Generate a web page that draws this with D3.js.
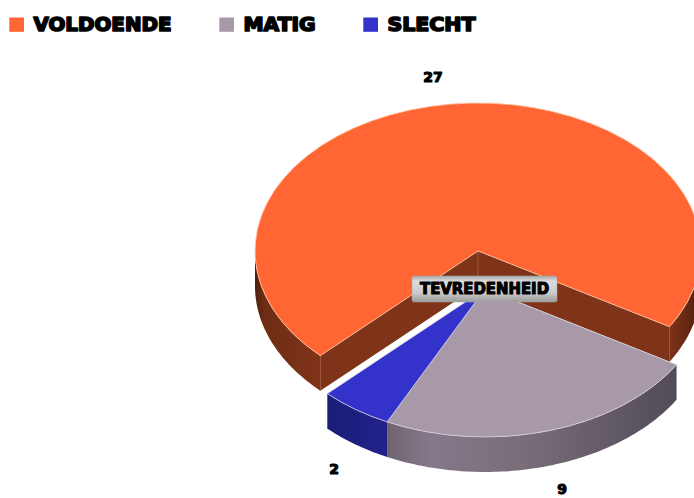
<!DOCTYPE html>
<html><head><meta charset="utf-8">
<script src="https://cdn.jsdelivr.net/npm/d3@7"></script>
<style>html,body{margin:0;background:#fff;overflow:hidden}svg{display:block}
text{font-family:"DejaVu Sans",sans-serif;font-weight:700;fill:#000;stroke:#000;paint-order:stroke;stroke-linejoin:round}</style>
</head><body><svg id="c" width="694" height="498"></svg>
<script>
const categories = ["VOLDOENDE","MATIG","SLECHT"];
const values = [27,9,2];
const topColors = ["#ff6633","#a899a8","#3333cc"];
const title = "TEVREDENHEID";
const startAngle = 225;           // degrees clockwise from north, where the first slice begins
const exploded = [false,true,true];
const centers = {normal:[478,251], exploded:[485,289]};
const rx = 223, ry = 148, depth = 35;
const labelPos = [[433,77],[562,489],[334,469]];
const legendX = [9,219,363];

const svg = d3.select("#c");
const defs = svg.append("defs");
function grad(id, stops){
  const g = defs.append("linearGradient").attr("id",id).attr("x1",0).attr("x2",1).attr("y1",0).attr("y2",0);
  stops.forEach(([o,c])=>g.append("stop").attr("offset",o).attr("stop-color",c));
}
grad("wall0",[[0,"#4e1f0e"],[.14,"#6f2d15"],[1,"#7f3318"]]);
grad("wall0r",[[0,"#7f3318"],[1,"#4e1f0e"]]);
grad("wall1",[[0,"#6f6470"],[.15,"#85788a"],[.45,"#7a6e7a"],[1,"#524c58"]]);
grad("wall2",[[0,"#1c1c78"],[1,"#22228a"]]);
const lg = defs.append("linearGradient").attr("id","box").attr("x1",0).attr("x2",0).attr("y1",0).attr("y2",1);
[[0,"#a8a8a8"],[.2,"#dcdcdc"],[.65,"#cbcbcb"],[1,"#9a9a9a"]].forEach(([o,c])=>lg.append("stop").attr("offset",o).attr("stop-color",c));

const pie = d3.pie().sort(null).value(d=>d).startAngle(startAngle*Math.PI/180).endAngle((startAngle+360)*Math.PI/180);
const arcs = pie(values);
const pt = (c,a,dz=0)=>[c[0]+rx*Math.sin(a), c[1]-ry*Math.cos(a)+dz];
const unitArc = d3.arc().innerRadius(0).outerRadius(1);
const line = d3.line();

function wallPath(c,a0,a1){
  const n = Math.max(2,Math.ceil((a1-a0)*60));
  const ang = d3.range(n+1).map(i=>a0+(a1-a0)*i/n);
  return line(ang.map(a=>pt(c,a)).concat(ang.slice().reverse().map(a=>pt(c,a,depth))))+"Z";
}
// the visible front part of the rim: angles that fall in the lower half of the ellipse
function frontRanges(a0,a1){
  const out=[];
  for(let k=0;k<3;k++){
    const lo=Math.PI/2+k*2*Math.PI, hi=3*Math.PI/2+k*2*Math.PI;
    const s=Math.max(a0,lo), e=Math.min(a1,hi);
    if(e>s) out.push([s,e]);
  }
  return out;
}
arcs.forEach((d,i)=>{
  const c = exploded[i]?centers.exploded:centers.normal;
  const g = svg.append("g");
  if(i===0){
    // cut faces of the large slice
    [d.startAngle,d.endAngle].forEach(a=>{
      const p=pt(c,a);
      g.append("path").attr("d",line([c,p,[p[0],p[1]+depth],[c[0],c[1]+depth]])+"Z").attr("fill","#7f3318");
      g.append("path").attr("d",line([p,[p[0],p[1]+depth]])).attr("stroke","#a8664c").attr("stroke-width",.8).attr("fill","none");
    });
    g.append("path").attr("d",line([c,[c[0],c[1]+depth]])).attr("stroke","#a8664c").attr("stroke-width",.8);
  }
  frontRanges(d.startAngle,d.endAngle).forEach(([s,e])=>{
    const fill = i===0?(s>2*Math.PI?"url(#wall0r)":"url(#wall0)"):`url(#wall${i})`;
    g.append("path").attr("d",wallPath(c,s,e)).attr("fill",fill);
  });
  g.append("path").attr("d",unitArc(d))
    .attr("transform",`translate(${c[0]},${c[1]}) scale(${rx},${ry})`)
    .attr("fill",topColors[i]).attr("stroke",i===0?"#ffc8a8":"#d8d0e0").attr("stroke-opacity",.8)
    .attr("stroke-width",1).attr("vector-effect","non-scaling-stroke");
});
// value labels
svg.selectAll("text.val").data(values).join("text").attr("class","val")
  .attr("x",(d,i)=>labelPos[i][0]).attr("y",(d,i)=>labelPos[i][1]).attr("dy","0.36em")
  .attr("text-anchor","middle").attr("font-size",14).attr("stroke-width",1.1).text(d=>d);
// centre title
svg.append("rect").attr("x",412).attr("y",276).attr("width",145).attr("height",26).attr("rx",2).attr("fill","url(#box)").attr("stroke","#aaa").attr("stroke-width",.5);
svg.append("text").attr("x",420).attr("y",289).attr("dy","0.36em")
  .attr("font-size",15).attr("stroke-width",1.1).attr("textLength",129).attr("lengthAdjust","spacingAndGlyphs").text(title);
// legend
const lgEnd=[172,316,476];
categories.forEach((t,i)=>{
  svg.append("rect").attr("x",legendX[i]+.3).attr("y",17.5).attr("width",14.7).attr("height",14.3).attr("fill",topColors[i]);
  svg.append("text").attr("x",legendX[i]+24.5).attr("y",24.5).attr("dy","0.36em").attr("font-size",19).attr("stroke-width",1.7)
    .attr("textLength",lgEnd[i]-legendX[i]-25).attr("lengthAdjust","spacingAndGlyphs").text(t);
});
</script></body></html>
